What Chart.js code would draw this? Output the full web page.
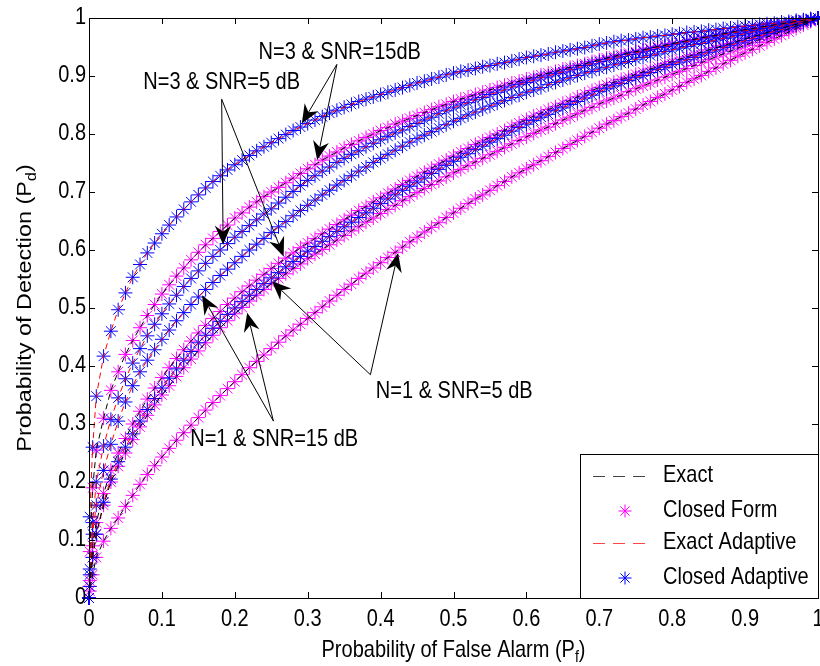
<!DOCTYPE html>
<html>
<head>
<meta charset="utf-8">
<title>ROC curves</title>
<style>body{margin:0;background:#fff}</style>
</head>
<body>
<canvas id="roc" width="820" height="666"></canvas>
<script src="https://cdn.jsdelivr.net/npm/chart.js"></script>
<script>
// Probability of false alarm (x values of every curve)
const pf = [0,0.001,0.005,
  0.01,0.02,0.03,0.04,0.05,0.06,0.07,0.08,0.09,0.10,
  0.11,0.12,0.13,0.14,0.15,0.16,0.17,0.18,0.19,0.20,
  0.21,0.22,0.23,0.24,0.25,0.26,0.27,0.28,0.29,0.30,
  0.31,0.32,0.33,0.34,0.35,0.36,0.37,0.38,0.39,0.40,
  0.41,0.42,0.43,0.44,0.45,0.46,0.47,0.48,0.49,0.50,
  0.51,0.52,0.53,0.54,0.55,0.56,0.57,0.58,0.59,0.60,
  0.61,0.62,0.63,0.64,0.65,0.66,0.67,0.68,0.69,0.70,
  0.71,0.72,0.73,0.74,0.75,0.76,0.77,0.78,0.79,0.80,
  0.81,0.82,0.83,0.84,0.85,0.86,0.87,0.88,0.89,0.90,
  0.91,0.92,0.93,0.94,0.95,0.96,0.97,0.98,0.99,1.00];

// N=3 & SNR=15 dB
const adN3s15 = [0,0.14,0.26,
  .348,.417,.460,.497,.526,.553,.575,.595,.612,.628,
  .643,.657,.670,.683,.695,.707,.718,.728,.738,.747,
  .755,.763,.771,.778,.785,.792,.799,.806,.812,.818,
  .824,.830,.836,.841,.846,.851,.856,.860,.864,.868,
  .872,.876,.880,.884,.888,.891,.895,.898,.902,.905,
  .908,.910,.913,.916,.918,.921,.923,.926,.929,.932,
  .934,.936,.938,.941,.943,.945,.947,.949,.952,.955,
  .957,.959,.961,.962,.964,.966,.967,.969,.970,.972,
  .973,.975,.976,.977,.979,.980,.982,.983,.985,.986,
  .987,.989,.990,.991,.993,.994,.996,.997,.999,1];
const cfN3s15 = [0,0.08,0.19,
  .255,.310,.358,.390,.420,.444,.466,.487,.506,.524,
  .540,.555,.569,.583,.596,.609,.620,.632,.643,.655,
  .664,.674,.683,.692,.700,.708,.716,.724,.732,.740,
  .747,.755,.762,.769,.776,.782,.788,.794,.800,.806,
  .811,.817,.822,.827,.832,.837,.842,.847,.851,.856,
  .860,.864,.868,.872,.876,.880,.884,.888,.891,.895,
  .898,.902,.905,.908,.912,.915,.918,.921,.925,.928,
  .931,.934,.937,.940,.942,.945,.948,.951,.953,.956,
  .958,.961,.963,.966,.968,.970,.973,.975,.978,.980,
  .982,.984,.986,.988,.990,.992,.994,.996,.998,1];

// N=3 & SNR=5 dB
const adN3s5 = [0,0.05,0.13,
  .200,.262,.308,.345,.378,.405,.430,.452,.472,.490,
  .507,.522,.537,.551,.564,.577,.589,.600,.611,.622,
  .632,.642,.652,.662,.671,.681,.691,.701,.711,.720,
  .728,.736,.743,.751,.758,.765,.771,.778,.784,.790,
  .796,.802,.807,.813,.818,.824,.829,.835,.840,.845,
  .850,.854,.859,.863,.868,.872,.876,.881,.885,.889,
  .893,.897,.900,.904,.907,.911,.914,.918,.921,.925,
  .928,.931,.934,.937,.940,.943,.946,.949,.951,.954,
  .957,.959,.962,.964,.967,.969,.971,.974,.976,.978,
  .980,.982,.985,.987,.989,.991,.993,.996,.998,1];
const cfN3s5 = [0,0.03,0.09,
  .130,.180,.220,.250,.275,.300,.322,.343,.362,.380,
  .397,.413,.428,.443,.457,.470,.482,.494,.506,.517,
  .528,.538,.548,.558,.568,.577,.586,.595,.604,.612,
  .620,.628,.636,.644,.652,.660,.668,.675,.683,.690,
  .698,.705,.713,.720,.727,.734,.741,.748,.755,.762,
  .769,.775,.782,.788,.794,.800,.806,.813,.819,.825,
  .831,.836,.842,.847,.853,.858,.864,.869,.875,.880,
  .885,.889,.894,.898,.903,.907,.912,.916,.921,.925,
  .929,.933,.937,.941,.945,.949,.952,.956,.960,.964,
  .968,.971,.975,.979,.982,.986,.989,.993,.996,1];

// N=1 & SNR=15 dB
const adN1s15 = [0,0.04,0.11,
  .160,.220,.265,.305,.338,.366,.390,.410,.428,.446,
  .462,.478,.492,.506,.519,.532,.544,.556,.567,.578,
  .589,.600,.610,.620,.630,.640,.649,.659,.668,.677,
  .686,.695,.703,.712,.720,.728,.736,.743,.751,.758,
  .765,.772,.779,.786,.792,.798,.804,.810,.816,.822,
  .827,.833,.838,.843,.848,.853,.858,.863,.867,.872,
  .876,.880,.885,.889,.893,.897,.901,.905,.908,.912,
  .915,.919,.922,.925,.929,.932,.935,.938,.942,.945,
  .948,.951,.954,.956,.959,.962,.965,.967,.970,.973,
  .976,.978,.981,.984,.986,.989,.992,.995,.997,1];
const cfN1s15 = [0,0.02,0.07,
  .110,.160,.200,.227,.250,.273,.295,.315,.333,.350,
  .366,.382,.397,.412,.426,.440,.453,.466,.478,.490,
  .501,.512,.522,.532,.542,.551,.559,.568,.576,.585,
  .593,.601,.609,.617,.625,.633,.640,.648,.655,.663,
  .670,.677,.685,.692,.699,.706,.713,.719,.726,.733,
  .739,.746,.752,.758,.764,.770,.777,.783,.789,.795,
  .801,.807,.812,.818,.824,.829,.835,.841,.846,.852,
  .857,.862,.867,.873,.878,.883,.888,.893,.898,.903,
  .908,.913,.918,.923,.928,.933,.938,.943,.948,.953,
  .958,.963,.967,.972,.977,.981,.986,.991,.995,1];

// N=1 & SNR=5 dB
const adN1s5 = [0,0.02,0.07,
  .110,.165,.205,.235,.260,.283,.305,.325,.344,.362,
  .379,.395,.410,.425,.440,.453,.465,.477,.489,.500,
  .511,.522,.532,.542,.552,.561,.571,.580,.589,.598,
  .606,.615,.623,.632,.640,.648,.656,.664,.672,.680,
  .688,.695,.703,.710,.717,.724,.732,.739,.746,.753,
  .760,.766,.773,.779,.786,.792,.798,.805,.811,.817,
  .823,.829,.834,.840,.845,.851,.856,.862,.867,.873,
  .878,.883,.887,.892,.897,.901,.906,.911,.915,.920,
  .924,.928,.932,.936,.941,.945,.949,.953,.957,.961,
  .965,.969,.973,.977,.980,.984,.988,.992,.996,1];
const cfN1s5 = [0,0.012,0.04,
  .070,.098,.120,.138,.158,.177,.196,.213,.228,.243,
  .258,.272,.285,.298,.311,.324,.337,.349,.361,.373,
  .385,.397,.408,.419,.430,.441,.452,.462,.472,.482,
  .492,.502,.512,.522,.532,.541,.551,.560,.569,.578,
  .587,.596,.605,.614,.622,.631,.639,.647,.656,.664,
  .672,.680,.688,.695,.703,.711,.718,.726,.733,.740,
  .747,.754,.761,.768,.775,.782,.789,.796,.803,.810,
  .817,.823,.830,.836,.843,.850,.856,.863,.869,.876,
  .882,.889,.895,.901,.908,.914,.921,.927,.934,.940,
  .946,.952,.958,.964,.970,.976,.982,.988,.994,1];

// text labels: [text, pf, pd] and arrows: [from pf, from pd, to pf, to pd]
const labels = [
  ['N=3 & SNR=15dB', 0.344, 0.940],
  ['N=3 & SNR=5 dB', 0.182, 0.889],
  ['N=1 & SNR=15 dB', 0.254, 0.273],
  ['N=1 & SNR=5 dB', 0.501, 0.356]
];
const arrows = [
  [0.340, 0.920, 0.292, 0.818],
  [0.340, 0.920, 0.313, 0.755],
  [0.182, 0.860, 0.184, 0.609],
  [0.182, 0.860, 0.267, 0.589],
  [0.253, 0.305, 0.155, 0.522],
  [0.253, 0.305, 0.217, 0.492],
  [0.386, 0.385, 0.251, 0.546],
  [0.386, 0.385, 0.424, 0.595]
];
const legendItems = ['Exact', 'Closed Form', 'Exact Adaptive', 'Closed Adaptive'];

const FONT = '"Liberation Sans", Arial, Helvetica, sans-serif';
const STRETCH = 1.17;   // the original figure is stretched vertically
const MAGENTA = '#ff00ff', BLUE = '#0000ff', RED = '#ff0000';

function pts(arr) {
  return pf.map((x, i) => ({x: x, y: arr[i]}));
}
function markers(arr, color) {
  return {data: pts(arr), showLine: false, pointStyle: 'star', pointRadius: 7,
    borderColor: color, backgroundColor: color, pointBorderWidth: 1, clip: false,
    order: color == BLUE ? 1 : 2};
}
function exact(arr, color) {
  return {data: pts(arr), showLine: true, pointRadius: 0, borderColor: color,
    borderWidth: 1, borderDash: [6, 4], tension: 0, order: 0};
}

function tallText(ctx, text, x, y) {
  ctx.save();
  ctx.translate(x, y);
  ctx.scale(1, STRETCH);
  ctx.fillText(text, 0, 0);
  ctx.restore();
}

function drawStar(ctx, x, y, r, color) {
  const d = r * Math.SQRT1_2;
  ctx.strokeStyle = color;
  ctx.lineWidth = 1;
  ctx.beginPath();
  ctx.moveTo(x - r, y); ctx.lineTo(x + r, y);
  ctx.moveTo(x, y - r); ctx.lineTo(x, y + r);
  ctx.moveTo(x - d, y - d); ctx.lineTo(x + d, y + d);
  ctx.moveTo(x - d, y + d); ctx.lineTo(x + d, y - d);
  ctx.stroke();
}

function arrow(ctx, x0, y0, x1, y1) {
  const ang = Math.atan2(y1 - y0, x1 - x0);
  const L = 19, W = 8, N = 13;
  ctx.beginPath();
  ctx.moveTo(x0, y0);
  ctx.lineTo(x1 - Math.cos(ang) * N, y1 - Math.sin(ang) * N);
  ctx.stroke();
  ctx.save();
  ctx.translate(x1, y1);
  ctx.rotate(ang);
  ctx.beginPath();
  ctx.moveTo(0, 0); ctx.lineTo(-L, -W); ctx.lineTo(-N, 0); ctx.lineTo(-L, W);
  ctx.closePath();
  ctx.fill();
  ctx.restore();
}

// text with a subscript, centred on cx, baseline at by (in the current frame)
function subText(ctx, main, sub, cx, by, draw) {
  ctx.font = '20px ' + FONT;
  const w1 = ctx.measureText(main).width, w3 = ctx.measureText(')').width;
  ctx.font = '14px ' + FONT;
  const w2 = ctx.measureText(sub).width;
  const x = cx - (w1 + w2 + w3) / 2;
  ctx.textAlign = 'left';
  ctx.textBaseline = 'alphabetic';
  ctx.font = '20px ' + FONT;
  draw(main, x, by);
  ctx.font = '14px ' + FONT;
  draw(sub, x + w1, by + 5);
  ctx.font = '20px ' + FONT;
  draw(')', x + w1 + w2, by);
}

const decorations = {
  id: 'decorations',
  afterDatasetsDraw(chart) {
    const {ctx, chartArea: a, scales: {x, y}} = chart;
    ctx.save();
    ctx.strokeStyle = '#000';
    ctx.fillStyle = '#000';
    ctx.lineWidth = 1;
    // axes box
    ctx.strokeRect(a.left + 0.5, a.top + 0.5, a.right - a.left, a.bottom - a.top);
    // inward ticks on all sides
    ctx.beginPath();
    x.ticks.forEach(t => {
      const px = Math.round(x.getPixelForValue(t.value)) + 0.5;
      ctx.moveTo(px, a.bottom); ctx.lineTo(px, a.bottom - 6);
      ctx.moveTo(px, a.top); ctx.lineTo(px, a.top + 6);
    });
    y.ticks.forEach(t => {
      const py = Math.round(y.getPixelForValue(t.value)) + 0.5;
      ctx.moveTo(a.left, py); ctx.lineTo(a.left + 6, py);
      ctx.moveTo(a.right, py); ctx.lineTo(a.right - 6, py);
    });
    ctx.stroke();

    // tick labels
    ctx.font = '20px ' + FONT;
    ctx.textBaseline = 'middle';
    ctx.textAlign = 'center';
    x.ticks.forEach(t => tallText(ctx, String(Math.round(t.value * 10) / 10), x.getPixelForValue(t.value), a.bottom + 22));
    ctx.textAlign = 'right';
    y.ticks.forEach(t => tallText(ctx, String(Math.round(t.value * 10) / 10), a.left - 3, y.getPixelForValue(t.value)));

    // annotations
    arrows.forEach(r => arrow(ctx, x.getPixelForValue(r[0]), y.getPixelForValue(r[1]),
      x.getPixelForValue(r[2]), y.getPixelForValue(r[3])));
    ctx.textAlign = 'center';
    labels.forEach(l => tallText(ctx, l[0], x.getPixelForValue(l[1]), y.getPixelForValue(l[2])));

    // legend box in the lower right corner
    const lw = 238, lh = 144;
    const lx = a.right - lw, ly = a.bottom - lh;
    ctx.fillStyle = '#fff';
    ctx.fillRect(lx, ly, lw, lh);
    ctx.strokeStyle = '#000';
    ctx.strokeRect(lx + 0.5, ly + 0.5, lw, lh);
    const rowY = [22, 57, 89, 124];
    legendItems.forEach((name, i) => {
      const cy = ly + rowY[i];
      if (i == 0 || i == 2) {
        ctx.save();
        ctx.strokeStyle = i == 0 ? '#444' : '#ff4444';
        ctx.setLineDash([12, 8]);
        ctx.beginPath();
        ctx.moveTo(lx + 13, cy + 0.5); ctx.lineTo(lx + 73, cy + 0.5);
        ctx.stroke();
        ctx.restore();
      } else {
        drawStar(ctx, lx + 45, cy, 6.5, i == 1 ? MAGENTA : BLUE);
      }
      ctx.fillStyle = '#000';
      ctx.font = '20px ' + FONT;
      ctx.textAlign = 'left';
      ctx.textBaseline = 'middle';
      tallText(ctx, name, lx + 83, cy);
    });

    // axis titles
    ctx.fillStyle = '#000';
    subText(ctx, 'Probability of False Alarm (P', 'f', (a.left + a.right) / 2, 657,
      (s, px, py) => tallText(ctx, s, px, py));
    // the y title: the vertical stretch runs along its length
    ctx.save();
    ctx.translate(31, (a.top + a.bottom) / 2);
    ctx.scale(1, STRETCH);
    ctx.rotate(-Math.PI / 2);
    subText(ctx, 'Probability of Detection (P', 'd', 0, 0, (s, px, py) => ctx.fillText(s, px, py));
    ctx.restore();
    ctx.restore();
  }
};

new Chart(document.getElementById('roc'), {
  type: 'scatter',
  data: {
    datasets: [
      exact(cfN3s15, '#000'), exact(cfN3s5, '#000'), exact(cfN1s15, '#000'), exact(cfN1s5, '#000'),
      exact(adN3s15, RED), exact(adN3s5, RED), exact(adN1s15, RED), exact(adN1s5, RED),
      markers(adN3s15, BLUE), markers(adN3s5, BLUE), markers(adN1s15, BLUE), markers(adN1s5, BLUE),
      markers(cfN3s15, MAGENTA), markers(cfN3s5, MAGENTA), markers(cfN1s15, MAGENTA), markers(cfN1s5, MAGENTA)
    ]
  },
  options: {
    responsive: false,
    animation: false,
    layout: {autoPadding: false, padding: {top: 18, right: 2, left: 0, bottom: 0}},
    plugins: {legend: {display: false}, tooltip: {enabled: false}},
    scales: {
      x: {
        type: 'linear', min: 0, max: 1,
        grid: {display: false, drawTicks: false},
        border: {display: false},
        ticks: {stepSize: 0.1, display: false},
        afterFit: s => { s.height = 68; s.paddingLeft = 0; s.paddingRight = 0; }
      },
      y: {
        type: 'linear', min: 0, max: 1,
        grid: {display: false, drawTicks: false},
        border: {display: false},
        ticks: {stepSize: 0.1, display: false},
        afterFit: s => { s.width = 89; s.paddingTop = 0; s.paddingBottom = 0; }
      }
    }
  },
  plugins: [decorations]
});
</script>
</body>
</html>
